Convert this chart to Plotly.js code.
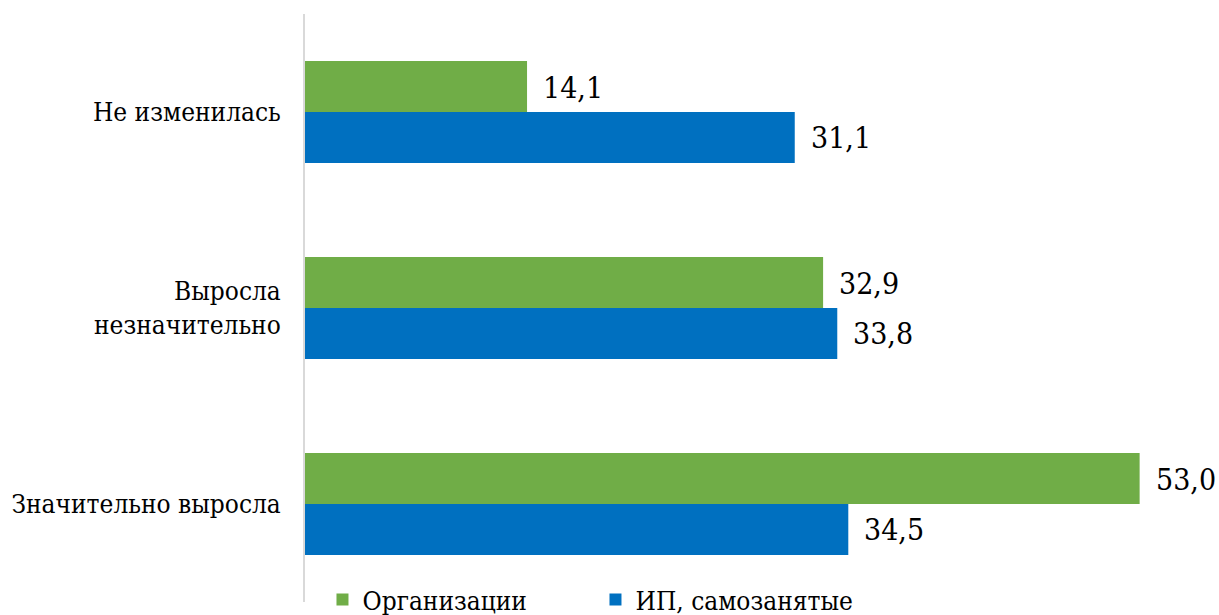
<!DOCTYPE html>
<html><head><meta charset="utf-8">
<script src="https://cdn.plot.ly/plotly-3.0.1.min.js"></script>
<style>html,body{margin:0;padding:0;background:#fff}</style>
</head><body>
<div id="chart" style="width:1219px;height:615px"></div>
<script>
const categories = ["Не изменилась", "Выросла<br>незначительно", "Значительно выросла"];
const seriesNames = ["Организации", "ИП, самозанятые"];
const orgValues = [14.1, 32.9, 53.0];
const ipValues = [31.1, 33.8, 34.5];
const colors = ["#70AD47", "#0070C0"];

const FONT = "DejaVu Serif Condensed, DejaVu Serif";
const fmt = v => v.toFixed(1).replace('.', ',');
const traces = [orgValues, ipValues].map((vals, i) => ({
  type: 'bar', orientation: 'h', name: seriesNames[i],
  y: categories, x: vals, marker: {color: colors[i]},
  hoverinfo: 'none'
}));

const annotations = [];
[orgValues, ipValues].forEach((vals, i) => {
  vals.forEach((v, j) => {
    annotations.push({
      x: v, y: categories[j], xref: 'x', yref: 'y', text: fmt(v),
      showarrow: false, xanchor: 'left', yanchor: 'middle',
      xshift: 14, yshift: i === 0 ? 25 : -25,
      font: {family: FONT, size: 30, color: '#000'}
    });
  });
});

const layout = {
  width: 1219, height: 615,
  margin: {l: 305, r: 40, t: 14, b: 13, autoexpand: false},
  barmode: 'group', bargap: 0.48, bargroupgap: 0,
  paper_bgcolor: '#fff', plot_bgcolor: '#fff',
  separators: ', ',
  font: {family: FONT, size: 26, color: '#000'},
  xaxis: {range: [0, 55.5], showgrid: false, zeroline: false, showticklabels: false, showline: false, ticks: ''},
  yaxis: {autorange: 'reversed', showline: true, linecolor: '#d9d9d9', linewidth: 2,
    ticks: '', ticklabelstandoff: 17, showgrid: false, zeroline: false,
    tickfont: {family: FONT, size: 26, color: '#000'}},
  showlegend: true,
  legend: {orientation: 'h', x: 0.02, xanchor: 'left', y: 0.004, yanchor: 'middle',
    entrywidth: 228, entrywidthmode: 'pixels', traceorder: 'normal',
    font: {family: FONT, size: 26, color: '#000'}, bgcolor: 'rgba(0,0,0,0)'},
  annotations: annotations
};

Plotly.newPlot('chart', traces, layout, {displayModeBar: false, staticPlot: true});
</script>
</body></html>
